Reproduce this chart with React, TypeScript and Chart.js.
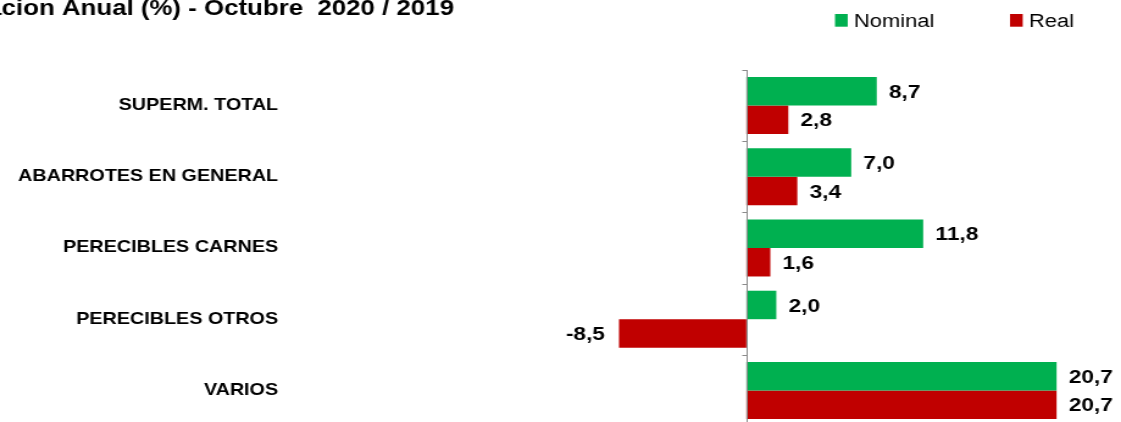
import { useEffect, useRef } from "react";
import { Chart, registerables } from "chart.js";

Chart.register(...registerables);

// ---- data ----
const categories = [
  "SUPERM. TOTAL",
  "ABARROTES EN GENERAL",
  "PERECIBLES CARNES",
  "PERECIBLES OTROS",
  "VARIOS",
];
const nominalValues = [8.7, 7.0, 11.8, 2.0, 20.7];
const realValues = [2.8, 3.4, 1.6, -8.5, 20.7];
const seriesLabels = ["Nominal", "Real"];
const titleText = "Variacion Anual (%) - Octubre  2020 / 2019";

// ---- style ----
const GREEN = "#00B050";
const RED = "#C00000";
const FONT = '"Liberation Sans", Arial, sans-serif';
const CSS_W = 1121;
const BUF_W = 919; // drawn narrower, then stretched horizontally like the reference
const H = 426;
const S = CSS_W / BUF_W;

const fmt = (v: number) => v.toFixed(1).replace(".", ",");

const zeroAxisPlugin = {
  id: "zeroAxis",
  afterDatasetsDraw(chart: any) {
    const { ctx, chartArea, scales } = chart;
    const x0 = Math.round(scales.x.getPixelForValue(0)) + 0.5;
    ctx.save();
    ctx.strokeStyle = "#8c8c8c";
    ctx.lineWidth = 1;
    ctx.beginPath();
    ctx.moveTo(x0, chartArea.top);
    ctx.lineTo(x0, chartArea.bottom);
    for (let i = 0; i <= categories.length; i++) {
      const yy = Math.round(scales.y.getPixelForValue(i - 0.5)) + 0.5;
      ctx.moveTo(x0 - 4, yy);
      ctx.lineTo(x0, yy);
    }
    ctx.stroke();
    ctx.restore();
  },
};

const valueLabelPlugin = {
  id: "valueLabels",
  afterDraw(chart: any) {
    const { ctx } = chart;
    ctx.save();
    ctx.font = `bold 18.6px ${FONT}`;
    ctx.fillStyle = "#000";
    ctx.textBaseline = "middle";
    chart.data.datasets.forEach((ds: any, di: number) => {
      const meta = chart.getDatasetMeta(di);
      meta.data.forEach((bar: any, i: number) => {
        const v = ds.data[i] as number;
        const txt = fmt(v);
        if (v >= 0) {
          ctx.textAlign = "left";
          ctx.fillText(txt, bar.x + 10, bar.y + 1.5);
        } else {
          ctx.textAlign = "right";
          ctx.fillText(txt, bar.x - 11.5, bar.y + 1.5);
        }
      });
    });
    ctx.restore();
  },
};

const headerPlugin = {
  id: "header",
  afterDraw(chart: any) {
    const { ctx } = chart;
    ctx.save();
    // title (starts off-canvas on the left, as in the reference)
    ctx.font = `bold 21.2px ${FONT}`;
    ctx.fillStyle = "#000";
    ctx.textAlign = "right";
    ctx.textBaseline = "alphabetic";
    ctx.fillText(titleText, 454 / S, 15);
    // legend
    const legendX = [835 / S, 1010 / S];
    ctx.font = `18px ${FONT}`;
    ctx.textAlign = "left";
    chart.data.datasets.forEach((ds: any, di: number) => {
      const x = legendX[di];
      ctx.fillStyle = ds.backgroundColor;
      ctx.fillRect(x, 14, 12.7 / S, 12.7);
      ctx.fillStyle = "#000";
      ctx.fillText(ds.label, x + 12.7 / S + 5, 26.7);
    });
    ctx.restore();
  },
};

export default function App() {
  const ref = useRef<HTMLCanvasElement | null>(null);

  useEffect(() => {
    document.body.style.margin = "0";
    const canvas = ref.current;
    if (!canvas) return;
    const chart = new Chart(canvas, {
      type: "bar",
      data: {
        labels: categories,
        datasets: [
          {
            label: seriesLabels[0],
            data: nominalValues,
            backgroundColor: GREEN,
            categoryPercentage: 0.8,
            barPercentage: 1,
          },
          {
            label: seriesLabels[1],
            data: realValues,
            backgroundColor: RED,
            categoryPercentage: 0.8,
            barPercentage: 1,
          },
        ],
      },
      options: {
        indexAxis: "y",
        responsive: false,
        animation: false,
        devicePixelRatio: 1,
        layout: { padding: { top: 70, bottom: 0, left: 0, right: 0 } },
        plugins: {
          legend: { display: false },
          title: { display: false },
          tooltip: { enabled: false },
        },
        scales: {
          x: { min: -10, max: 25, display: false },
          y: {
            afterFit(scale: any) {
              scale.width = 489;
              scale.paddingTop = 0;
              scale.paddingBottom = 0;
            },
            grid: { display: false, drawTicks: false },
            border: { display: false },
            ticks: {
              padding: 261,
              color: "#000",
              font: { family: FONT, size: 16.2, weight: "bold" },
            },
          },
        },
      },
      plugins: [zeroAxisPlugin, valueLabelPlugin, headerPlugin],
    } as any);
    return () => chart.destroy();
  }, []);

  return (
    <div style={{ width: CSS_W, height: 422, overflow: "hidden" }}>
      <canvas
        ref={ref}
        width={BUF_W}
        height={H}
        style={{ width: CSS_W + "px", height: H + "px", display: "block" }}
      />
    </div>
  );
}
